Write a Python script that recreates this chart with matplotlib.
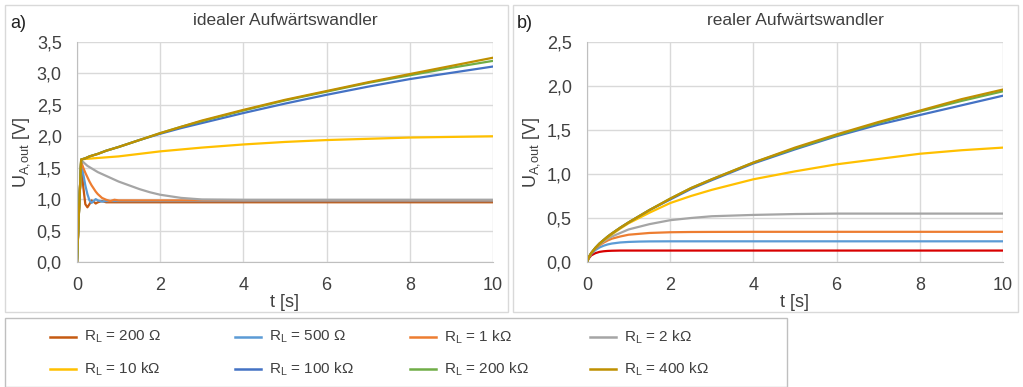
import matplotlib.pyplot as plt
import matplotlib.ticker as ticker
from matplotlib.patches import Rectangle
from matplotlib.lines import Line2D

plt.rcParams['font.family'] = ['Liberation Sans', 'DejaVu Sans']

# ---- data: a) idealer Aufwaertswandler ----
t_a = [0, 0.05, 0.1, 0.15, 0.2, 0.25, 0.3, 0.35, 0.4, 0.45, 0.5, 0.6, 0.7, 0.8, 0.9, 1.0,
       1.25, 1.5, 1.75, 2.0, 2.5, 3.0, 4, 5, 6, 7, 8, 9, 10]
a_200 = [0, 0.85, 1.6, 1.2, 0.92, 0.87, 0.92, 0.98, 0.96, 0.93, 0.95, 0.97, 0.95, 0.95, 0.95, 0.95,
         0.95, 0.95, 0.95, 0.95, 0.95, 0.95, 0.95, 0.95, 0.95, 0.95, 0.95, 0.95, 0.95]
a_500 = [0, 0.85, 1.58, 1.4, 1.22, 1.08, 0.98, 0.94, 0.97, 1.0, 0.98, 0.96, 0.97, 0.97, 0.97, 0.97,
         0.97, 0.97, 0.97, 0.97, 0.97, 0.97, 0.97, 0.97, 0.97, 0.97, 0.97, 0.97, 0.97]
a_1k = [0, 0.85, 1.6, 1.5, 1.42, 1.35, 1.28, 1.22, 1.17, 1.12, 1.08, 1.02, 0.99, 0.97, 0.99, 0.98,
        0.98, 0.98, 0.98, 0.98, 0.98, 0.98, 0.98, 0.98, 0.98, 0.98, 0.98, 0.98, 0.98]
a_2k = [0, 0.85, 1.62, 1.59, 1.56, 1.53, 1.51, 1.49, 1.47, 1.45, 1.43, 1.40, 1.37, 1.34, 1.31, 1.28,
        1.22, 1.16, 1.11, 1.07, 1.02, 0.995, 0.99, 0.99, 0.99, 0.99, 0.99, 0.99, 0.99]
a_10k = [0, 0.85, 1.63, 1.635, 1.64, 1.642, 1.645, 1.647, 1.65, 1.652, 1.655, 1.66, 1.665, 1.67, 1.675, 1.68,
         1.70, 1.72, 1.74, 1.76, 1.79, 1.82, 1.87, 1.91, 1.94, 1.96, 1.98, 1.99, 2.0]
a_100k = [0, 0.85, 1.63, 1.64, 1.65, 1.665, 1.68, 1.69, 1.70, 1.71, 1.72, 1.745, 1.77, 1.79, 1.81, 1.83,
          1.885, 1.94, 1.99, 2.04, 2.13, 2.21, 2.37, 2.52, 2.66, 2.79, 2.91, 3.01, 3.11]
a_200k = [0, 0.85, 1.63, 1.64, 1.65, 1.665, 1.68, 1.69, 1.70, 1.71, 1.72, 1.745, 1.77, 1.79, 1.81, 1.83,
          1.885, 1.94, 1.995, 2.05, 2.15, 2.24, 2.41, 2.57, 2.71, 2.85, 2.97, 3.09, 3.20]
a_400k = [0, 0.85, 1.63, 1.64, 1.65, 1.665, 1.68, 1.69, 1.70, 1.71, 1.72, 1.745, 1.77, 1.79, 1.81, 1.83,
          1.885, 1.94, 1.995, 2.05, 2.15, 2.25, 2.42, 2.58, 2.72, 2.86, 2.99, 3.12, 3.25]

# ---- data: b) realer Aufwaertswandler ----
t_b = [0, 0.05, 0.1, 0.2, 0.3, 0.4, 0.5, 0.6, 0.8, 1, 1.25, 1.5, 2, 2.5, 3, 4, 5, 6, 7, 8, 9, 10]
b_200 = [0, 0.045, 0.075, 0.1, 0.115, 0.122, 0.126, 0.128, 0.13, 0.13, 0.13, 0.13, 0.13, 0.13, 0.13,
         0.13, 0.13, 0.13, 0.13, 0.13, 0.13, 0.13]
b_500 = [0, 0.055, 0.09, 0.135, 0.165, 0.185, 0.2, 0.21, 0.222, 0.228, 0.232, 0.234, 0.235, 0.235, 0.235,
         0.235, 0.235, 0.235, 0.235, 0.235, 0.235, 0.235]
b_1k = [0, 0.06, 0.1, 0.15, 0.19, 0.22, 0.245, 0.265, 0.29, 0.31, 0.32, 0.33, 0.338, 0.341, 0.342,
        0.343, 0.343, 0.343, 0.343, 0.343, 0.343, 0.343]
b_2k = [0, 0.06, 0.1, 0.155, 0.2, 0.235, 0.265, 0.29, 0.33, 0.37, 0.40, 0.43, 0.475, 0.50, 0.52,
        0.535, 0.545, 0.55, 0.55, 0.55, 0.55, 0.55]
b_10k = [0, 0.06, 0.1, 0.16, 0.205, 0.245, 0.28, 0.315, 0.38, 0.44, 0.50, 0.56, 0.67, 0.75, 0.82,
         0.94, 1.03, 1.11, 1.17, 1.23, 1.27, 1.30]
b_100k = [0, 0.06, 0.1, 0.16, 0.21, 0.25, 0.29, 0.325, 0.39, 0.45, 0.52, 0.59, 0.71, 0.83, 0.93,
          1.12, 1.28, 1.43, 1.56, 1.67, 1.78, 1.89]
b_200k = [0, 0.06, 0.1, 0.16, 0.21, 0.25, 0.29, 0.325, 0.39, 0.45, 0.52, 0.59, 0.72, 0.84, 0.94,
          1.13, 1.29, 1.44, 1.58, 1.71, 1.83, 1.94]
b_400k = [0, 0.06, 0.1, 0.16, 0.21, 0.25, 0.29, 0.325, 0.39, 0.45, 0.52, 0.59, 0.72, 0.84, 0.94,
          1.13, 1.30, 1.45, 1.59, 1.72, 1.85, 1.96]

labels = ['200 Ω', '500 Ω', '1 kΩ', '2 kΩ', '10 kΩ', '100 kΩ', '200 kΩ', '400 kΩ']
colors = ['#C55A11', '#5B9BD5', '#ED7D31', '#A5A5A5', '#FFC000', '#4472C4', '#70AD47', '#BF9000']
colors_b = ['#D80000'] + colors[1:]

series_a = [a_200, a_500, a_1k, a_2k, a_10k, a_100k, a_200k, a_400k]
series_b = [b_200, b_500, b_1k, b_2k, b_10k, b_100k, b_200k, b_400k]

fig = plt.figure(figsize=(10.23, 3.87), dpi=100)

# chart-area frames
for x0, w in [(5, 503), (513, 505)]:
    fig.patches.append(Rectangle((x0 / 1023, 1 - 312 / 387), w / 1023, 307 / 387,
                                 transform=fig.transFigure, fill=False, ec='#D9D9D9', lw=1))
fig.patches.append(Rectangle((5 / 1023, 0), 782 / 1023, 1 - 318 / 387,
                             transform=fig.transFigure, fill=False, ec='#BFBFBF', lw=1))

comma = ticker.FuncFormatter(lambda v, p: f'{v:.1f}'.replace('.', ','))


def setup(ax, ymax, title, tag, fx):
    ax.set_xlim(0, 10)
    ax.set_ylim(0, ymax)
    ax.set_xticks([0, 2, 4, 6, 8, 10])
    ax.set_yticks([i * 0.5 for i in range(int(ymax / 0.5) + 1)])
    ax.yaxis.set_major_formatter(comma)
    ax.grid(True, color='#D9D9D9', lw=1)
    ax.set_axisbelow(True)
    for s in ['top', 'right']:
        ax.spines[s].set_visible(False)
    for s in ['left', 'bottom']:
        ax.spines[s].set_color('#BFBFBF')
    ax.tick_params(axis='x', length=0, labelsize=13, colors='#404040', pad=11)
    ax.tick_params(axis='y', length=0, labelsize=13, colors='#404040', pad=11)
    ax.set_xlabel('t [s]', fontsize=13, color='#404040', labelpad=0)
    ax.set_ylabel(r'U$_\mathregular{A,\!out}$ [V]', fontsize=13, color='#404040', labelpad=3)
    ax.set_title(title, fontsize=12.5, color='#404040', pad=12)
    fig.text(fx, 1 - 24 / 387, tag, fontsize=13, color='#202020', va='center')


ax1 = fig.add_axes([77 / 1023, 1 - 262 / 387, 416 / 1023, 220 / 387])
ax2 = fig.add_axes([587 / 1023, 1 - 262 / 387, 416 / 1023, 220 / 387])

for s, c in zip(series_a, colors):
    ax1.plot(t_a, s, color=c, lw=1.6)
for s, c in zip(series_b, colors_b):
    ax2.plot(t_b, s, color=c, lw=1.6)

setup(ax1, 3.5, 'idealer Aufwärtswandler', 'a)', 10 / 1023)
setup(ax2, 2.5, 'realer Aufwärtswandler', 'b)', 517 / 1023)

# legend (4 columns x 2 rows)
col_x = [50, 235, 410, 590]
row_y = [337, 369]
for i, (lab, c) in enumerate(zip(labels, colors)):
    x = col_x[i % 4]
    y = 1 - row_y[i // 4] / 387
    fig.lines.append(Line2D([x / 1023, (x + 26) / 1023], [y, y], transform=fig.transFigure,
                            color=c, lw=1.8))
    fig.text((x + 34) / 1023, y, r'R$_\mathregular{L}$ = ' + lab, fontsize=11,
             color='#404040', va='center')

fig.savefig('out.png', dpi=100)
